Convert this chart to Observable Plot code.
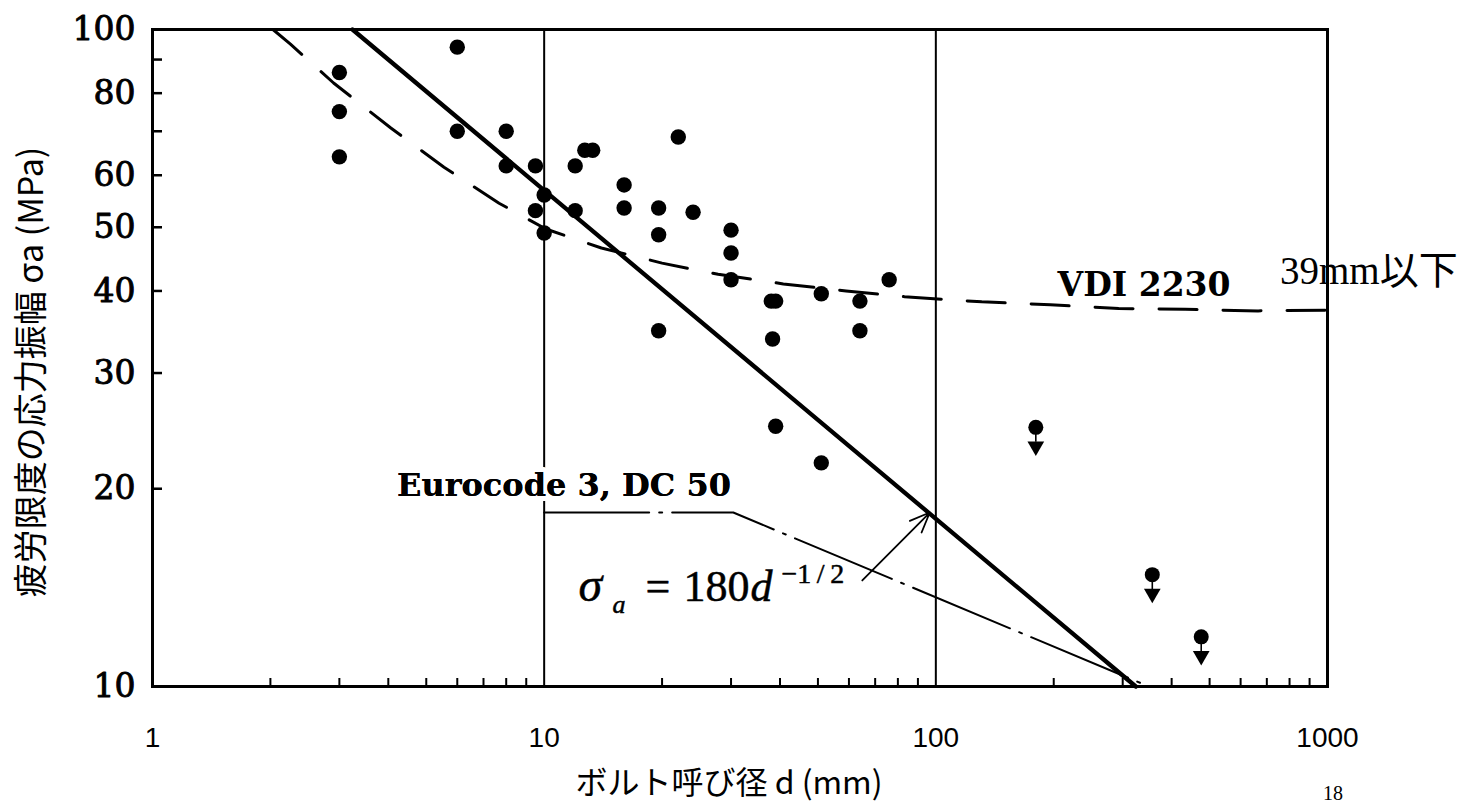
<!DOCTYPE html>
<html><head><meta charset="utf-8">
<script src="https://cdn.jsdelivr.net/npm/d3@7"></script>
<script src="https://cdn.jsdelivr.net/npm/@observablehq/plot@0.6"></script>
<style>
html,body{margin:0;padding:0;background:#fff;}
#chart{position:relative;width:1467px;height:805px;overflow:hidden;background:#fff;}
#page{position:absolute;left:1323px;top:783px;font:20px "Liberation Serif",serif;line-height:1;color:#000;}
</style></head><body>
<div id="chart"><div id="page">18</div></div>
<script>
// ---- data ----
const xTicks = [1, 10, 100, 1000];
const xMinor = [2,3,4,5,6,7,8,9,20,30,40,50,60,70,80,90,200,300,400,500,600,700,800,900];
const yTicks = [10, 20, 30, 40, 50, 60, 80, 100];
const yMinor = [20, 30, 40, 50, 60, 70, 80, 90];
const refLinesX = [10, 100];

// measured fatigue limits (bolt diameter d [mm], stress amplitude [MPa])
const pointD = [3, 3, 3, 6, 6, 8, 8, 9.5, 9.5, 10, 10, 12, 12, 12.7, 13.3, 16, 16, 19.6, 19.6, 19.6, 22, 24, 30, 30, 30, 38, 39, 38.3, 39, 51, 51, 64, 64, 76];
const pointS = [86, 75, 64, 94, 70, 70, 62, 62, 53, 56, 49, 62, 53, 65.5, 65.5, 58, 53.5, 53.5, 48.7, 34.8, 68.6, 52.7, 49.5, 45.7, 41.6, 38.6, 38.6, 33.8, 24.9, 39.6, 21.9, 38.6, 34.8, 41.6];
// upper-bound results (dot with downward arrow)
const boundD = [180, 357, 476];
const boundS = [24.8, 14.8, 11.9];

// VDI 2230 curve (dashed)
const vdiD = [2.03, 2.25, 2.9, 4.06, 5.55, 7.67, 10.1, 14, 20, 27.8, 40.8, 59, 83.2, 131, 196, 293, 433, 665, 1000];
const vdiS = [100, 95, 82.9, 70.8, 61.7, 54.4, 49.7, 46.5, 44.1, 42.4, 41.0, 40.0, 39.2, 38.5, 38.1, 37.6, 37.5, 37.3, 37.4];
// sigma_a = 180 d^-1/2 (thick solid) end points
const fitD = [3.24, 324];
const fitS = [100, 10];
// Eurocode 3, DC 50 (dash-dot)
const ecD = [10, 30.4, 350];
const ecS = [18.4, 18.4, 10];
// annotation arrow (from formula to the fit line)
const arrowFromD = [64.9], arrowFromS = [14.5], arrowToD = [96.5], arrowToS = [18.4];

// annotation anchors
const ecLabel = {t: "Eurocode 3, DC 50", d: 4.21, s: 19.5};
const vdiLabel = {t: "VDI 2230", d: 204.5, s: 39.3};
const limLabel = {t: "39mm以下", d: 756.5, s: 41.0};
const formulaAt = {d: 12.23, s: 13.5};
const xTitle = "ボルト呼び径 d (mm)";
const yTitle = "疲労限度の応力振幅 σa (MPa)";

// ---- build tables ----
const pts = pointD.map((d, i) => ({d, s: pointS[i]}));
const bounds = boundD.map((d, i) => ({d, s: boundS[i]}));
const vdi = vdiD.map((d, i) => ({d, s: vdiS[i]}));
const fit = fitD.map((d, i) => ({d, s: fitS[i]}));
const ec = ecD.map((d, i) => ({d, s: ecS[i]}));
const arrows = arrowFromD.map((d, i) => ({x1: d, y1: arrowFromS[i], x2: arrowToD[i], y2: arrowToS[i]}));

const serif = "'DejaVu Serif', serif";
const times = "'Liberation Serif', 'Noto Sans CJK JP', serif";
const sans = "'Liberation Sans', Arial, sans-serif";
const jp = "'Noto Sans CJK JP', sans-serif";

const fTxt = (part, opts) => Plot.text([formulaAt], {x: "d", y: "s", text: () => part, textAnchor: "start", lineAnchor: "bottom", fontFamily: "'Liberation Serif', serif", fill: "black", stroke: "black", strokeWidth: 0.5, ...opts});

const chart = Plot.plot({
  width: 1467, height: 805,
  marginTop: 29, marginBottom: 119, marginLeft: 152, marginRight: 140,
  style: {background: "white", overflow: "visible", color: "black"},
  x: {type: "log", domain: [1, 1000]},
  y: {type: "log", domain: [10, 100]},
  marks: [
    Plot.axisX({ticks: xTicks, tickSize: 0, tickPadding: 41, tickFormat: d => String(d), fontSize: 28, fontFamily: sans, label: null, fill: "black"}),
    Plot.axisY({ticks: yTicks, tickSize: 0, tickPadding: 17, tickFormat: d => String(d), fontSize: 33, fontFamily: serif, label: null, fill: "black", textStroke: "black", textStrokeWidth: 0.9}),
    Plot.ruleX(refLinesX, {stroke: "black", strokeWidth: 2}),
    Plot.ruleX(xMinor, {x: d => d, y1: 10, y2: 10, insetTop: -8, stroke: "black", strokeWidth: 2}),
    Plot.ruleY(yMinor, {y: d => d, x1: 1, x2: 1, insetRight: -10, stroke: "black", strokeWidth: 2.5}),
    Plot.frame({stroke: "black", strokeWidth: 3}),
    Plot.line(vdi, {x: "d", y: "s", stroke: "black", strokeWidth: 3, strokeDasharray: "38,26"}),
    Plot.line(ec, {x: "d", y: "s", stroke: "black", strokeWidth: 2, strokeDasharray: "105,10,3,10"}),
    Plot.line(fit, {x: "d", y: "s", stroke: "black", strokeWidth: 4.3}),
    Plot.arrow(arrows, {x1: "x1", y1: "y1", x2: "x2", y2: "y2", stroke: "black", strokeWidth: 1.8, headLength: 18, headAngle: 45}),
    Plot.dot(pts, {x: "d", y: "s", r: 7.7, fill: "black", stroke: "none"}),
    Plot.ruleX(bounds, {x: "d", y1: "s", y2: "s", insetBottom: -15, stroke: "black", strokeWidth: 1.6}),
    Plot.dot(bounds, {x: "d", y: "s", r: 7.5, fill: "black", stroke: "none"}),
    Plot.dot(bounds, {x: "d", y: "s", symbol: "triangle", rotate: 180, r: 6.2, dy: 19, fill: "black", stroke: "none"}),
    Plot.text([ecLabel], {x: "d", y: "s", text: "t", textAnchor: "start", lineAnchor: "bottom", fontSize: 32, fontWeight: "bold", fontFamily: serif, fill: "black", stroke: "white", strokeWidth: 10}),
    Plot.text([ecLabel], {x: "d", y: "s", text: "t", textAnchor: "start", lineAnchor: "bottom", fontSize: 32, fontWeight: "bold", fontFamily: serif, fill: "black"}),
    Plot.text([vdiLabel], {x: "d", y: "s", text: "t", textAnchor: "start", lineAnchor: "bottom", fontSize: 33, fontWeight: "bold", fontFamily: serif, fill: "black"}),
    Plot.text([limLabel], {x: "d", y: "s", text: "t", textAnchor: "start", lineAnchor: "bottom", fontSize: 39, fontFamily: times, fill: "black"}),
    fTxt("σ", {fontSize: 48, fontStyle: "italic"}),
    fTxt("a", {fontSize: 26, fontStyle: "italic", dx: 34, dy: 12}),
    fTxt("=", {fontSize: 44, dx: 67}),
    fTxt("180", {fontSize: 44, dx: 105}),
    fTxt("d", {fontSize: 44, fontStyle: "italic", dx: 172}),
    fTxt("−1\u2009/\u20092", {fontSize: 28, dx: 203, dy: -18}),
    Plot.text([xTitle], {text: d => d, frameAnchor: "bottom", textAnchor: "middle", dx: -11, dy: 97, lineAnchor: "middle", fontSize: 32, fontFamily: jp, fill: "black"}),
    Plot.text([yTitle], {text: d => d, frameAnchor: "left", textAnchor: "middle", rotate: -90, dx: -120, dy: 14, lineAnchor: "middle", fontSize: 34, fontFamily: jp, fill: "black"})
  ]
});
document.getElementById("chart").prepend(chart);
</script>
</body></html>
